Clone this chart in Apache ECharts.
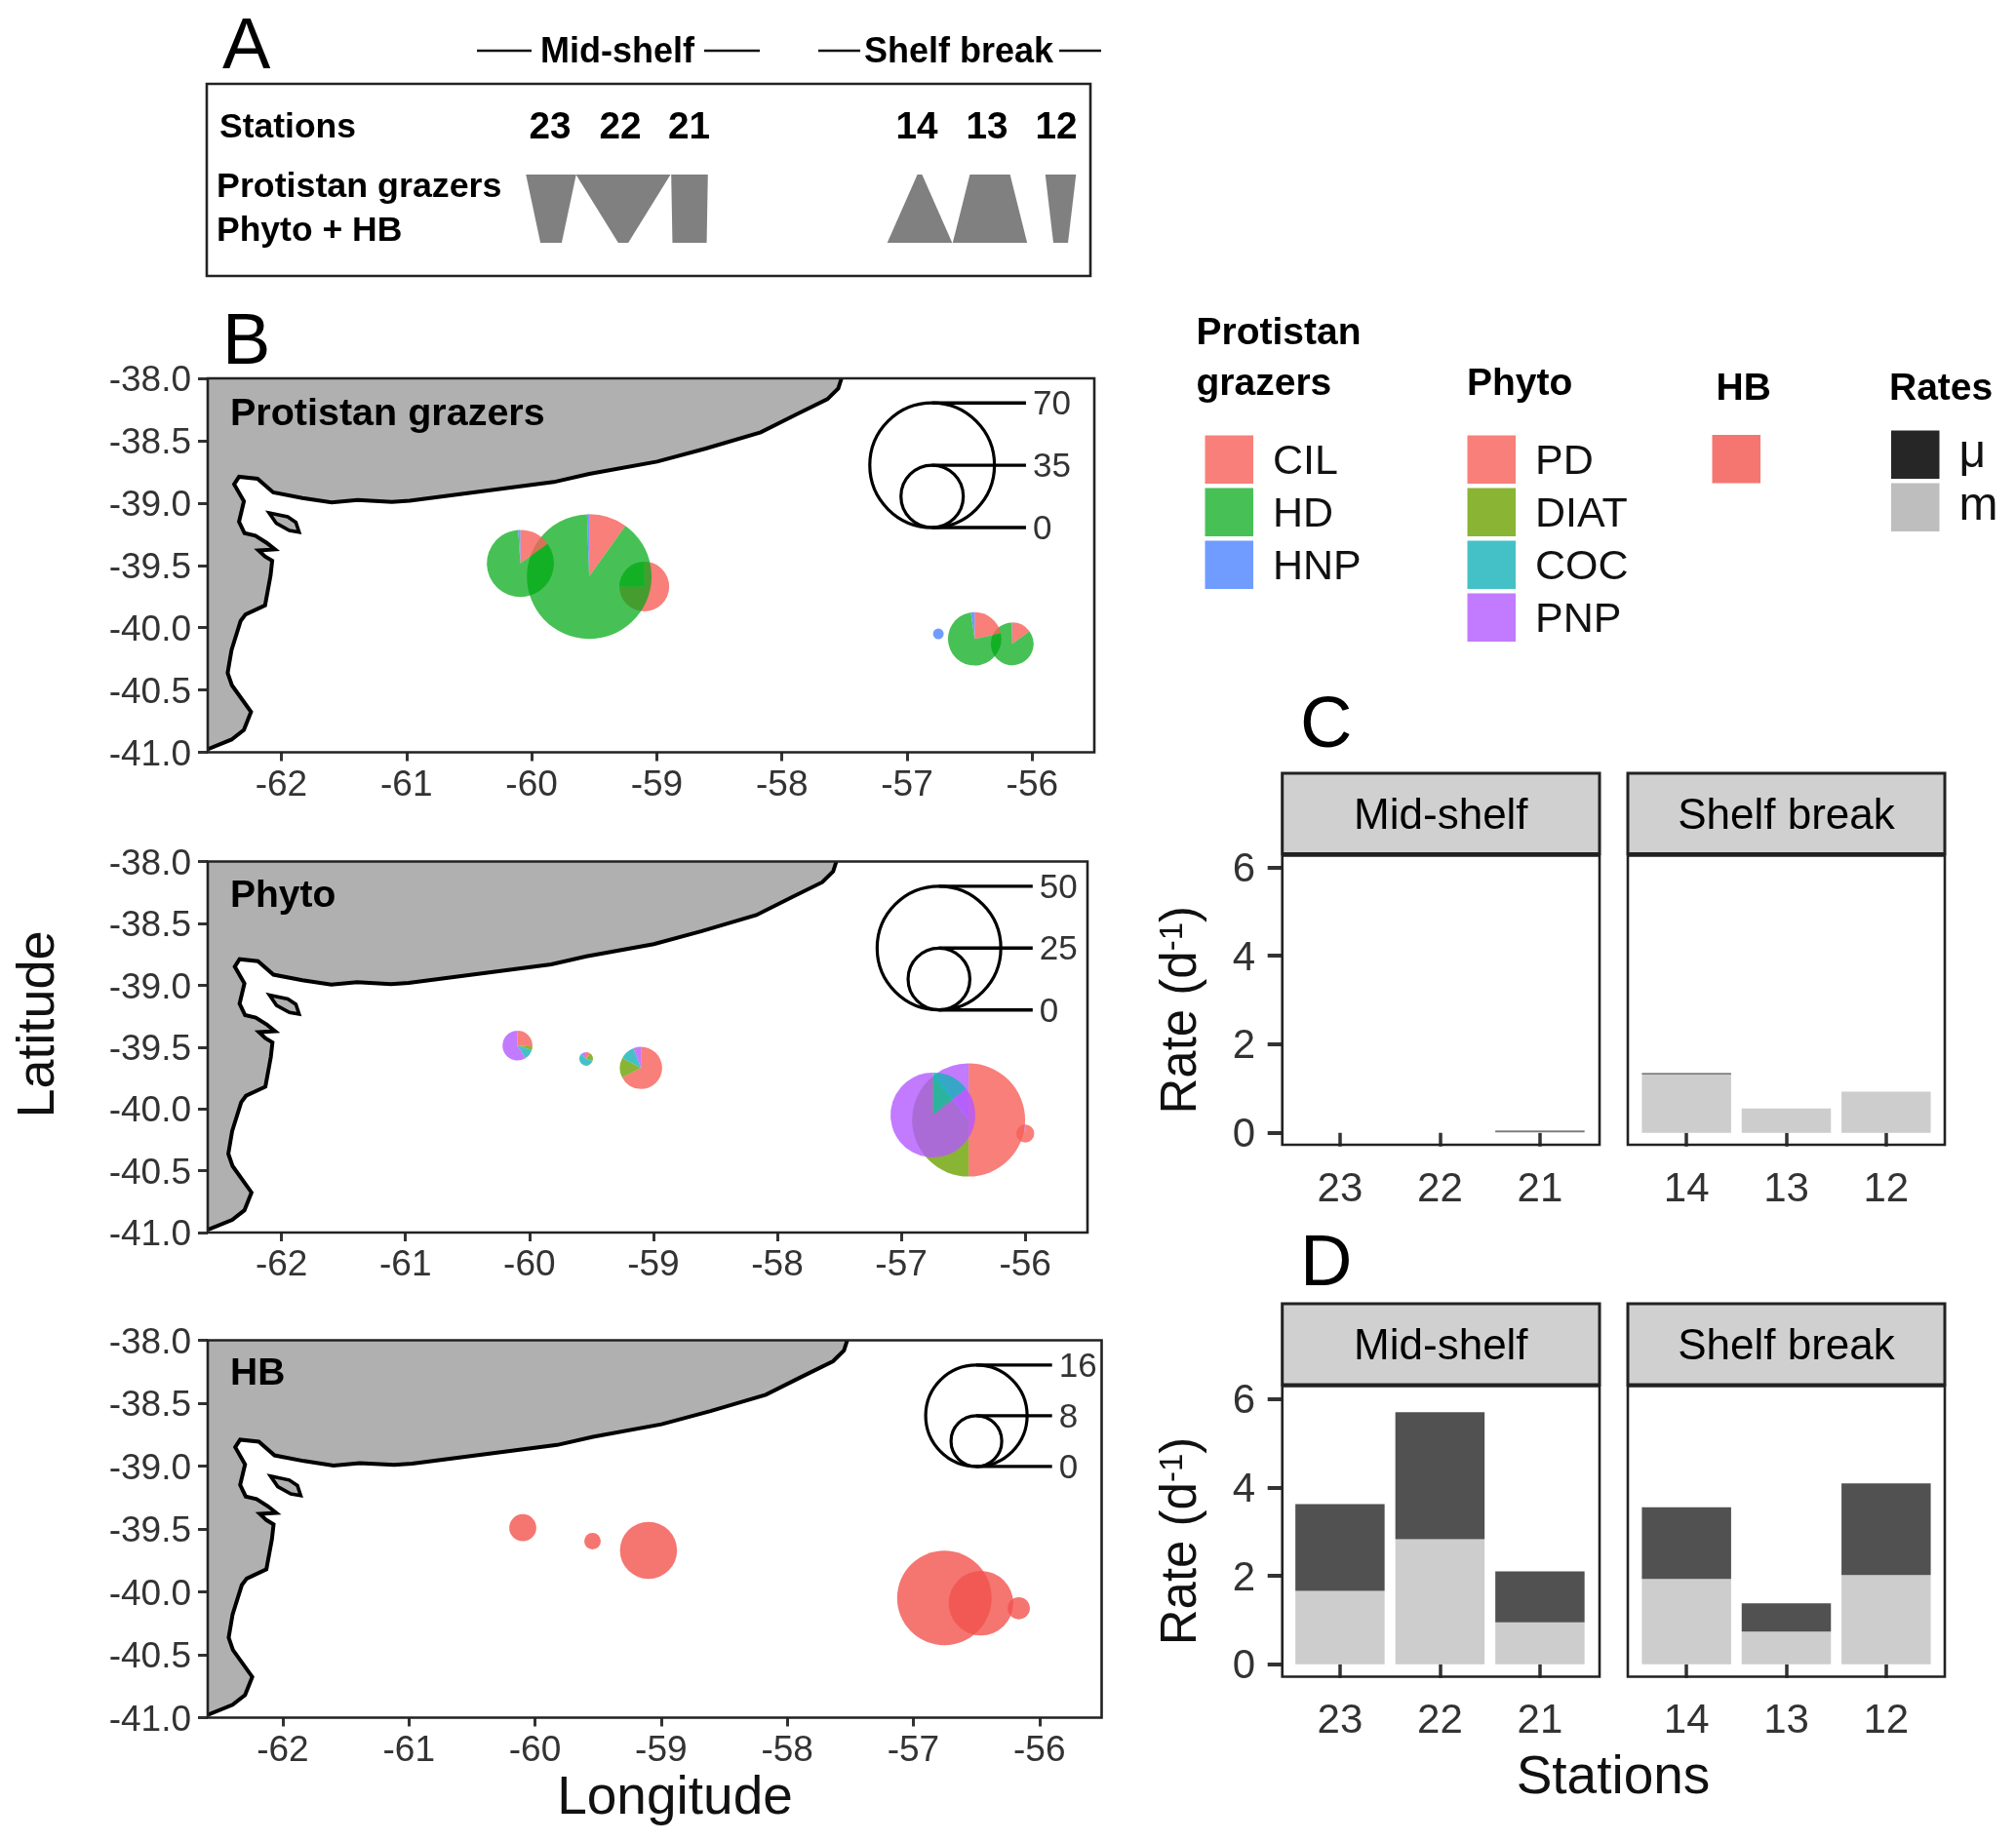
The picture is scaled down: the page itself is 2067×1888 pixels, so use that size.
<!DOCTYPE html>
<html><head><meta charset="utf-8">
<style>html,body{margin:0;padding:0;background:#fff}#c{width:2067px;height:1888px}</style>
<script src="https://cdn.jsdelivr.net/npm/echarts@6/dist/echarts.min.js"></script>
</head><body><div id="c"></div>
<script>
// ---------- data ----------
const stationOrder = ['12','13','14','21','22','23'];
const stations = ['23','22','21','14','13','12'];
const midStations = ['23','22','21'];
const breakStations = ['14','13','12'];

// map positions per panel (same order as stations)
const lonProt = [-60.09,-59.54,-59.10,-56.75,-56.46,-56.16];
const latProt = [-39.485,-39.59,-39.67,-40.05,-40.09,-40.13];
const lonPhyto = [-60.096,-59.543,-59.10,-56.745,-56.457,-56.0];
const latPhyto = [-39.488,-39.596,-39.669,-40.05,-40.09,-40.2];
const lonHB = [-60.097,-59.544,-59.10,-56.754,-56.464,-56.164];
const latHB = [-39.49,-39.597,-39.67,-40.048,-40.09,-40.13];

// biomass values
const CIL = [5.7,6.9,21,0,6.5,3.6];
const HD = [31.6,62.7,7,0,22.8,20.3];
const HNP = [0.4,0.4,0,6,0.7,0.1];
const PD = [3.15,0.55,11.54,0,22.85,7.15];
const DIAT = [0.48,1.1,2.62,0,17.82,0];
const COC = [1.33,3.19,1.95,4.9,0.46,0];
const PNP = [7.14,0.66,0.99,29.4,4.57,0.15];
const HB = [4.27,2.6,9,14.9,10.2,3.5];

const breaksProt = [70,35,0];
const breaksPhyto = [50,25,0];
const breaksHB = [16,8,0];

// rates
const muC = [0,0,0.03,0.03,0,0];
const mC = [0,0,0.02,1.32,0.55,0.93];
const muD = [1.96,2.87,1.15,1.62,0.64,2.07];
const mD = [1.66,2.83,0.95,1.93,0.74,2.02];

// panel A: station widths
const trapTop = [51.5,97,37.6,4.8,41.2,31.5];
const trapBottom = [21.8,10.3,35.1,66.6,76.3,15];
const trapCentre = [353,427,495,731,803,875.5];
const stationLabelX = [564,636,706.5,940,1012,1083];

// coastline
const coastLon = [-62.59,-62.398,-62.299,-62.242,-62.395,-62.429,-62.398,-62.325,-62.286,-62.13,-62.086,-62.073,-62.13,-62.182,-62.052,-62.117,-62.208,-62.294,-62.338,-62.299,-62.377,-62.338,-62.19,-62.065,-61.832,-61.598,-61.39,-61.117,-60.974,-59.824,-59.54,-58.997,-58.609,-58.17,-57.885,-57.637,-57.55,-57.524];
const coastLat = [-40.976,-40.898,-40.82,-40.676,-40.462,-40.363,-40.18,-39.946,-39.894,-39.821,-39.581,-39.463,-39.429,-39.38,-39.372,-39.32,-39.262,-39.242,-39.15,-38.986,-38.85,-38.79,-38.806,-38.915,-38.96,-38.996,-38.976,-38.991,-38.981,-38.832,-38.767,-38.668,-38.563,-38.433,-38.29,-38.167,-38.081,-38.0];
const islandLon = [-62.097,-61.949,-61.884,-61.858,-61.936,-62.04];
const islandLat = [-39.08,-39.111,-39.155,-39.234,-39.221,-39.163];

const lonTicks = [-62,-61,-60,-59,-58,-57,-56];
const rateTicks = [0,2,4,6];

// ---------- styles ----------
const FONT = '"Liberation Sans", Arial, sans-serif';
const AXC = '#333333', TXT = '#333333';
const COL = {
  CIL:'rgba(246,95,89,0.8)', HD:'rgba(0,169,19,0.72)', HNP:'rgba(64,123,255,0.75)',
  PD:'rgba(246,95,89,0.8)', DIAT:'rgba(109,161,0,0.8)', COC:'rgba(21,177,184,0.8)', PNP:'rgba(179,89,255,0.8)',
  HB:'rgba(243,83,78,0.8)'
};
const frames = {
  A:[212,86,906,197],
  B1:[213,388,909,383.5], B2:[213,883.5,902,380.5], B3:[213,1374.5,916.5,387],
  C1:[1314.7,877.5,325.3,296.5], C2:[1669,877.5,325,296.5],
  D1:[1314.7,1421.5,325.3,298], D2:[1669,1421.5,325,298]
};
const gridOf = b => ({left:b[0],top:b[1],width:b[2],height:b[3],containLabel:false,show:false});
const barBox = (k,l,w)=>[l,frames[k][1],w,frames[k][3]];
const grid = [frames.A,frames.B1,frames.B2,frames.B3,
  barBox('C1',1322.65,307.5),barBox('C2',1678,307),barBox('D1',1322.65,307.5),barBox('D2',1678,307)].map(gridOf);

const shifted = (size)=>({a:{fontSize:size,fontFamily:FONT,color:TXT,padding:[6,0,0,0]}});
function mapX(i,min,max){return {
  type:'value',gridIndex:i,min:min,max:max,splitLine:{show:false},axisLine:{show:false},
  axisTick:{show:true,length:9,lineStyle:{color:AXC,width:3},customValues:lonTicks},
  axisLabel:{customValues:lonTicks,margin:15.5,color:TXT,fontSize:37,fontFamily:FONT,formatter:v=>String(v)}
};}
function mapY(i){return {
  type:'value',gridIndex:i,min:-41,max:-38,interval:0.5,splitLine:{show:false},axisLine:{show:false},
  axisTick:{show:true,length:10,lineStyle:{color:AXC,width:3}},
  axisLabel:{margin:17,fontSize:37,fontFamily:FONT,color:TXT,rich:shifted(37),showMinLabel:true,showMaxLabel:true,formatter:v=>'{a|'+v.toFixed(1)+'}'}
};}
function barX(i,labels){return {
  type:'category',gridIndex:i,data:labels,splitLine:{show:false},axisLine:{show:false},
  axisTick:{show:true,length:14,alignWithLabel:true,interval:0,lineStyle:{color:AXC,width:3.5}},
  axisLabel:{interval:0,margin:25,color:TXT,fontSize:42,fontFamily:FONT}
};}
function barY(i,min,max,named){return {
  type:'value',gridIndex:i,min:min,max:max,offset:named?7.95:0,splitLine:{show:false},axisLine:{show:false},
  axisTick:{show:named,length:15,lineStyle:{color:AXC,width:4},customValues:rateTicks},
  axisLabel:{show:named,customValues:rateTicks,margin:27.7,fontSize:42,fontFamily:FONT,color:TXT,rich:shifted(42),formatter:v=>'{a|'+v+'}'},
  name:named?'Rate (d{s|-1})':'',nameLocation:'middle',nameGap:77.5,nameRotate:90,
  nameTextStyle:{fontSize:51,fontFamily:FONT,color:'#111',padding:[0,20,0,0],rich:{s:{fontSize:33,fontFamily:FONT,color:'#111',verticalAlign:'top'}}}
};}

const xAxis = [
  {type:'value',gridIndex:0,min:0,max:906,show:false},
  mapX(1,-62.588,-55.504), mapX(2,-62.595,-55.498), mapX(3,-62.595,-55.507),
  barX(4,midStations),barX(5,breakStations),barX(6,midStations),barX(7,breakStations)
];
const yAxis = [
  {type:'value',gridIndex:0,min:0,max:1,show:false},
  mapY(1), mapY(2), mapY(3),
  barY(4,-0.271,6.26,true),barY(5,-0.271,6.26,false),barY(6,-0.28,6.29,true),barY(7,-0.28,6.29,false)
];

// ---------- series builders ----------
const series = [];
function landSeries(g){
  series.push({type:'custom',name:'land'+g,xAxisIndex:g,yAxisIndex:g,z:1,silent:true,clip:true,data:[[coastLon[0],coastLat[0]]],
    renderItem:(p,api)=>{
      const pts=coastLon.map((x,i)=>api.coord([x,coastLat[i]]));
      const minX=p.coordSys.x,minY=p.coordSys.y;
      const poly=[[minX,pts[0][1]]].concat(pts,[[pts[pts.length-1][0],minY],[minX,minY]]);
      const isl=islandLon.map((x,i)=>api.coord([x,islandLat[i]]));
      return {type:'group',children:[
        {type:'polygon',shape:{points:poly},style:{fill:'#B0B0B0'}},
        {type:'polyline',shape:{points:pts},style:{fill:null,stroke:'#000',lineWidth:4,lineJoin:'miter'}},
        {type:'polygon',shape:{points:isl},style:{fill:'#B0B0B0',stroke:'#000',lineWidth:3.6}}
      ]};
    }});
}
function pieSeries(g,lons,lats,comps,k){
  const totals=stations.map((s,i)=>comps.reduce((a,c)=>a+c.values[i],0));
  const cum=stations.map(()=>0);
  comps.forEach(c=>{
    const rows=stations.map((s,i)=>{const st=cum[i];cum[i]+=c.values[i];
      return [lons[i],lats[i],totals[i],st,cum[i],stationOrder.indexOf(s)];});
    series.push({type:'custom',name:c.name,xAxisIndex:g,yAxisIndex:g,z:3,silent:true,clip:false,
      itemStyle:{color:COL[c.name]},encode:{x:0,y:1},data:rows,
      renderItem:(p,api)=>{
        const tot=api.value(2),a=api.value(3),b=api.value(4);
        if(b<=a)return null;
        const ctr=api.coord([api.value(0),api.value(1)]);
        const r=api.size([0,tot*k])[1];
        return {type:'sector',z2:api.value(5),
          shape:{cx:ctr[0],cy:ctr[1],r:r,r0:0,startAngle:-Math.PI/2+2*Math.PI*a/tot,endAngle:-Math.PI/2+2*Math.PI*b/tot,clockwise:true},
          style:{fill:COL[c.name]}};
      }});
  });
}
function keySeries(g,breaks,k,cLon,bLat,endLon){
  series.push({type:'custom',name:'key'+g,xAxisIndex:g,yAxisIndex:g,z:4,silent:true,clip:false,encode:{x:0,y:1},
    data:breaks.map(v=>[cLon,bLat,v]),
    renderItem:(p,api)=>{
      const v=api.value(2);const c=api.coord([cLon,bLat+v*k]);
      const top=api.coord([cLon,bLat+2*v*k]);const e=api.coord([endLon,bLat+2*v*k]);
      const ch=[{type:'line',shape:{x1:top[0],y1:top[1],x2:e[0],y2:e[1]},style:{stroke:'#000',lineWidth:3.4}},
        {type:'text',style:{text:String(v),x:e[0]+7,y:e[1]+2.5,fill:TXT,fontSize:35,fontFamily:FONT,textVerticalAlign:'middle',textAlign:'left'}}];
      if(v>0){const r=api.size([0,v*k])[1];ch.unshift({type:'circle',shape:{cx:c[0],cy:c[1],r:r},style:{fill:null,stroke:'#000',lineWidth:3.2}});}
      return {type:'group',children:ch};
    }});
}
[1,2,3].forEach(landSeries);
pieSeries(1,lonProt,latProt,[{name:'CIL',values:CIL},{name:'HD',values:HD},{name:'HNP',values:HNP}],1/140);
pieSeries(2,lonPhyto,latPhyto,[{name:'PD',values:PD},{name:'DIAT',values:DIAT},{name:'COC',values:COC},{name:'PNP',values:PNP}],1/100);
pieSeries(3,lonHB,latHB,[{name:'HB',values:HB}],0.0252);
keySeries(1,breaksProt,1/140,-56.80,-39.197,-56.05);
keySeries(2,breaksPhyto,1/100,-56.696,-39.2,-55.94);
keySeries(3,breaksHB,0.0252,-56.5,-39.003,-55.9);

// panel A trapezoids
series.push({type:'custom',name:'trapezoids',xAxisIndex:0,yAxisIndex:0,silent:true,clip:false,encode:{x:0,y:1},
  data:trapCentre.map((c,i)=>[c,trapTop[i],trapBottom[i]]),
  renderItem:(p,api)=>{
    const c=api.value(0),t=api.value(1)/2,b=api.value(2)/2;
    const yT=0.528,yB=0.173;
    return {type:'polygon',shape:{points:[api.coord([c-t,yT]),api.coord([c+t,yT]),api.coord([c+b,yB]),api.coord([c-b,yB])]},style:{fill:'#808080'}};
  }});

// bars
function bars(g,from,mu,m){
  series.push({type:'bar',name:'m',xAxisIndex:g,yAxisIndex:g,stack:'r'+g,barWidth:91.5,silent:true,itemStyle:{color:'#CDCDCD'},data:m.slice(from,from+3)});
  series.push({type:'bar',name:'μ',xAxisIndex:g,yAxisIndex:g,stack:'r'+g,barWidth:91.5,silent:true,itemStyle:{color:'#515151'},data:mu.slice(from,from+3)});
}
bars(4,0,muC,mC);bars(5,3,muC,mC);bars(6,0,muD,mD);bars(7,3,muD,mD);

// ---------- legends ----------
const legRich={a:{fontSize:43,fontFamily:FONT,color:'#111',padding:[6,0,0,15]}};
const legBase={orient:'vertical',icon:'rect',selectedMode:false,itemWidth:49.5,itemHeight:49.5,itemGap:4.5,padding:0,
  formatter:n=>'{a|'+n+'}',textStyle:{fontSize:43,fontFamily:FONT,color:'#111',rich:legRich}};
const legend=[
  Object.assign({},legBase,{left:1235.5,top:446.5,data:['CIL','HD','HNP']}),
  Object.assign({},legBase,{left:1504.5,top:446.5,data:['PD','DIAT','COC','PNP']}),
  Object.assign({},legBase,{left:1755.5,top:446,data:['HB'],formatter:()=>''}),
  Object.assign({},legBase,{left:1939,top:441.5,formatter:n=>n,textStyle:{fontSize:48,fontFamily:FONT,color:'#111',padding:[0,0,0,15]},
    data:[{name:'μ',itemStyle:{color:'#262626'}},{name:'m',itemStyle:{color:'#BEBEBE'}}]})
];

// ---------- text & frames ----------
const g=[];
function txt(s,x,y,size,opt){opt=opt||{};g.push({type:'text',z:50,silent:true,x:x,y:y+2.5,rotation:opt.rot||0,style:{text:s,x:0,y:0,fontSize:size,fontFamily:FONT,fill:opt.c||'#000',
  fontWeight:opt.w||'normal',textAlign:opt.a||'left',textVerticalAlign:'middle'}});}
function frame(b){g.push({type:'rect',z:40,silent:true,shape:{x:b[0],y:b[1],width:b[2],height:b[3]},style:{fill:null,stroke:'#222',lineWidth:2.6}});}
function strip(x,y,w,h,label){
  g.push({type:'rect',z:40,silent:true,shape:{x:x,y:y,width:w,height:h},style:{fill:'#D0D0D0',stroke:'#222',lineWidth:3}});
  txt(label,x+w/2,y+h/2+1,44,{a:'center'});
}
['A','B1','B2','B3','C1','C2','D1','D2'].forEach(k=>frame(frames[k]));
strip(1314.7,793,325.3,82.5,'Mid-shelf');strip(1669,793,325,82.5,'Shelf break');
strip(1314.7,1337,325.3,83,'Mid-shelf');strip(1669,1337,325,83,'Shelf break');
txt('A',228,47.5,74);txt('B',228,350.5,74);txt('C',1333,743.5,74);txt('D',1333,1295.5,74);
const B={w:'bold'};
txt('Mid-shelf',554,52,36,B);txt('Shelf break',886,52,36,B);
[[489,545],[722,779],[839,882],[1086,1129]].forEach(s=>g.push({type:'line',z:50,silent:true,shape:{x1:s[0],y1:52,x2:s[1],y2:52},style:{stroke:'#111',lineWidth:2.4}}));
txt('Stations',225,129,35.5,B);
txt('Protistan grazers',222,190,35.8,B);txt('Phyto + HB',222,235,35.5,B);
stations.forEach((s,i)=>txt(s,stationLabelX[i],129,38.7,{w:'bold',a:'center'}));
txt('Protistan grazers',236,423,39.5,B);txt('Phyto',236,917,39,B);txt('HB',236,1407,39,B);
txt('Protistan',1226.5,340,39,B);txt('grazers',1226.5,392,39,B);txt('Phyto',1504,392,39,B);txt('HB',1759.5,397,39,B);txt('Rates',1937,397,39,B);
txt('Stations',1654,1821.5,55,{a:'center',c:'#111'});
txt('Longitude',692,1842,55,{a:'center',c:'#111'});
txt('Latitude',40,1048,54,{a:'center',c:'#111',rot:Math.PI/2});

const chart=echarts.init(document.getElementById('c'),null,{width:2067,height:1888});
chart.setOption({backgroundColor:'#fff',animation:false,grid,xAxis,yAxis,series,legend,graphic:{elements:g}});
</script></body></html>
